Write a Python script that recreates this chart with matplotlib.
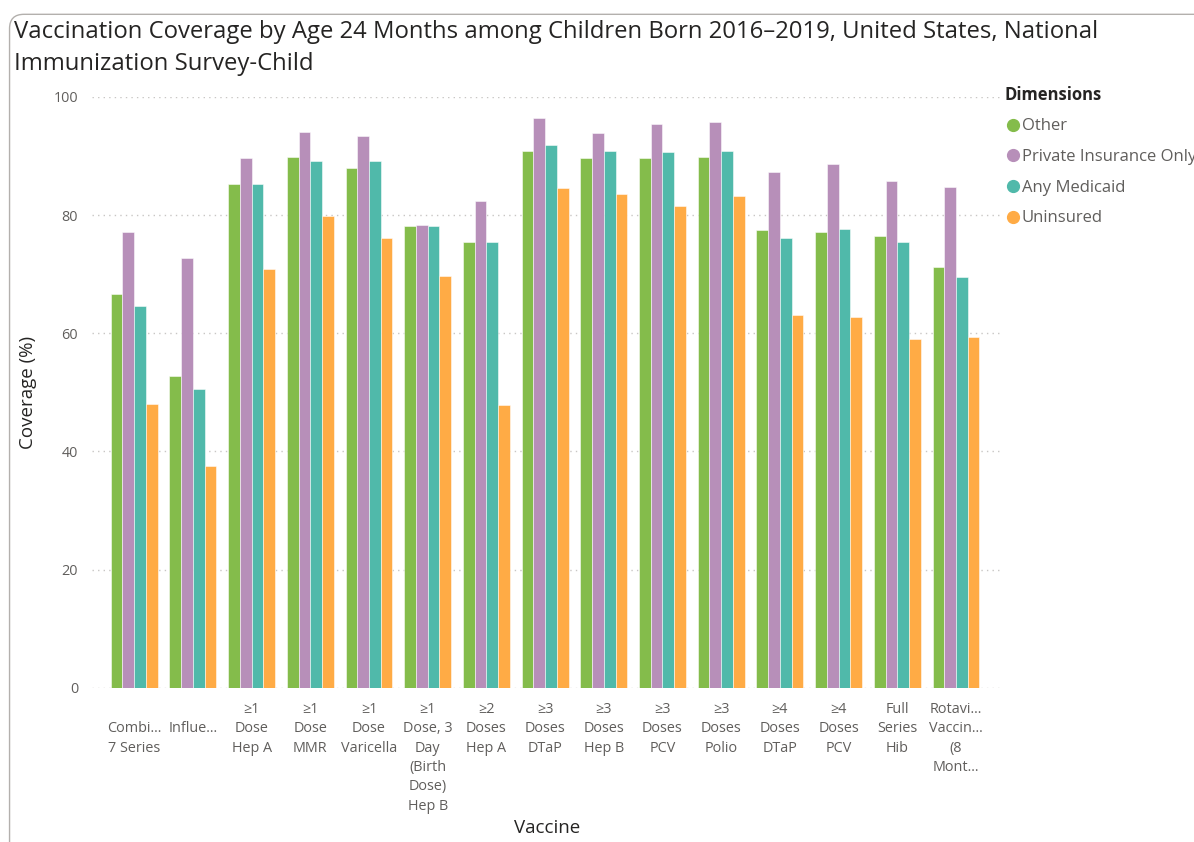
import numpy as np
import matplotlib.pyplot as plt
from matplotlib.patches import FancyBboxPatch
from matplotlib.lines import Line2D

plt.rcParams['font.family'] = ['Open Sans', 'DejaVu Sans']

vaccines = [
    "\nCombi...\n7 Series", "\nInflue...", "≥1\nDose\nHep A", "≥1\nDose\nMMR",
    "≥1\nDose\nVaricella", "≥1\nDose, 3\nDay\n(Birth\nDose)\nHep B",
    "≥2\nDoses\nHep A", "≥3\nDoses\nDTaP", "≥3\nDoses\nHep B", "≥3\nDoses\nPCV",
    "≥3\nDoses\nPolio", "≥4\nDoses\nDTaP", "≥4\nDoses\nPCV", "Full\nSeries\nHib",
    "Rotavi...\nVaccin...\n(8\nMont...",
]
series_names = ["Other", "Private Insurance Only", "Any Medicaid", "Uninsured"]
other     = [66.7, 52.8, 85.2, 89.8, 87.9, 78.1, 75.5, 90.9, 89.7, 89.7, 89.8, 77.4, 77.1, 76.5, 71.2]
private   = [77.1, 72.7, 89.6, 94.0, 93.3, 78.3, 82.3, 96.5, 93.8, 95.4, 95.7, 87.3, 88.6, 85.8, 84.7]
medicaid  = [64.6, 50.5, 85.2, 89.2, 89.2, 78.2, 75.4, 91.8, 90.8, 90.6, 90.8, 76.2, 77.6, 75.4, 69.6]
uninsured = [48.0, 37.6, 70.9, 79.9, 76.1, 69.7, 47.9, 84.6, 83.6, 81.5, 83.2, 63.1, 62.7, 59.0, 59.3]
colors = ["#84BC4B", "#B78FB9", "#50B9AA", "#FFAB45"]

text_col = "#605E5C"

fig = plt.figure(figsize=(11.94, 8.42), dpi=100)
fig.patch.set_facecolor("white")

# rounded card frame
frame = FancyBboxPatch((0.008, -0.05), 1.2, 1.033, boxstyle="round,pad=0,rounding_size=0.012",
                       transform=fig.transFigure, facecolor="none", edgecolor="#B3B0AD",
                       linewidth=1.0, mutation_aspect=1194 / 842)
fig.patches.append(frame)

ax = fig.add_axes([0.077, 0.183, 0.762, 0.702])

x = np.arange(len(vaccines))
w = 0.2
for i, (vals, c) in enumerate(zip([other, private, medicaid, uninsured], colors)):
    ax.bar(x + (i - 1.5) * w, vals, width=w, color=c, edgecolor=(1, 1, 1, 0.6),
           linewidth=0.6, zorder=3)

ax.set_ylim(0, 100)
ax.set_xlim(-0.72, 14.78)
ax.set_yticks([0, 20, 40, 60, 80, 100])
ax.grid(axis="y", linestyle=(0, (1, 3)), color="#C8C6C4", linewidth=1.0, zorder=0)
for s in ax.spines.values():
    s.set_visible(False)
ax.tick_params(axis="both", length=0, labelsize=10.4, labelcolor=text_col)
ax.tick_params(axis="y", pad=10)
ax.tick_params(axis="x", pad=10)
ax.set_xticks(x)
ax.set_xticklabels(vaccines, linespacing=1.4, va="top", ha="center")

ax.set_ylabel("Coverage (%)", fontsize=13.5, color="#252423", labelpad=12)
ax.set_xlabel("Vaccine", fontsize=13.5, color="#252423")
ax.xaxis.set_label_coords(0.5, -0.222)

fig.text(0.012, 0.976, "Vaccination Coverage by Age 24 Months among Children Born 2016–2019, United States, National\n"
         "Immunization Survey-Child", fontsize=17.2, color="#252423", va="top", ha="left", linespacing=1.42)

handles = [Line2D([0], [0], marker="o", linestyle="none", markersize=8.5,
                  markerfacecolor=c, markeredgecolor=c) for c in colors]
leg = fig.legend(handles, series_names, loc="upper left", bbox_to_anchor=(0.836, 0.906),
                 frameon=False, title="Dimensions", alignment="left", fontsize=12,
                 handletextpad=0.0, handlelength=1.0, labelspacing=0.88, borderaxespad=0)
leg.get_title().set_fontweight("bold")
leg.get_title().set_fontsize(12)
leg.get_title().set_color("#252423")
for t in leg.get_texts():
    t.set_color(text_col)

fig.savefig("out.png", dpi=100)
